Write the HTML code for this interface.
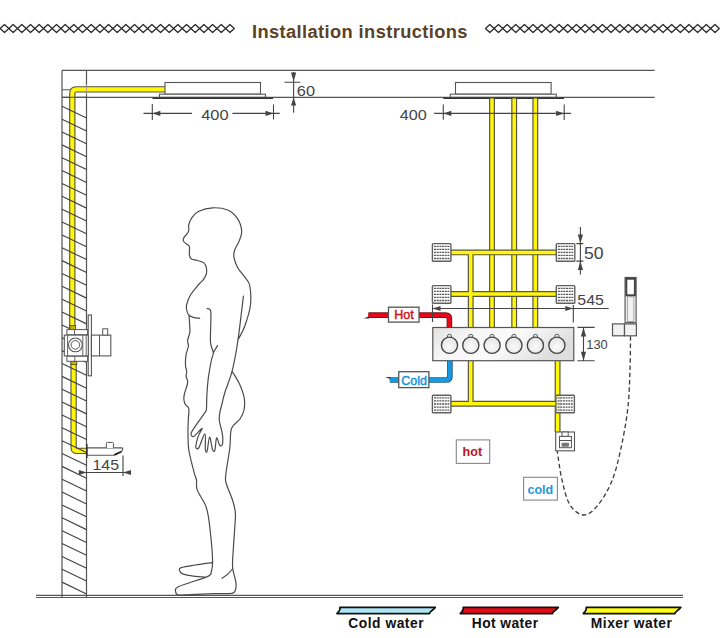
<!DOCTYPE html>
<html><head><meta charset="utf-8"><style>
html,body{margin:0;padding:0;background:#fff;}
svg{display:block;}
</style></head><body>
<svg width="720" height="638" viewBox="0 0 720 638">
<rect width="720" height="638" fill="#fff"/>
<path d="M0.17 28.5L4.5 24.5L8.84 28.5L4.5 32.5ZM8.84 28.5L13.17 24.5L17.5 28.5L13.17 32.5ZM17.5 28.5L21.84 24.5L26.18 28.5L21.84 32.5ZM26.17 28.5L30.51 24.5L34.84 28.5L30.51 32.5ZM34.84 28.5L39.18 24.5L43.52 28.5L39.18 32.5ZM43.52 28.5L47.85 24.5L52.19 28.5L47.85 32.5ZM52.18 28.5L56.52 24.5L60.85 28.5L56.52 32.5ZM60.85 28.5L65.19 24.5L69.52 28.5L65.19 32.5ZM69.53 28.5L73.86 24.5L78.19 28.5L73.86 32.5ZM78.2 28.5L82.53 24.5L86.86 28.5L82.53 32.5ZM86.87 28.5L91.2 24.5L95.53 28.5L91.2 32.5ZM95.54 28.5L99.87 24.5L104.2 28.5L99.87 32.5ZM104.2 28.5L108.54 24.5L112.87 28.5L108.54 32.5ZM112.88 28.5L117.21 24.5L121.54 28.5L117.21 32.5ZM121.55 28.5L125.88 24.5L130.22 28.5L125.88 32.5ZM130.22 28.5L134.55 24.5L138.89 28.5L134.55 32.5ZM138.88 28.5L143.22 24.5L147.56 28.5L143.22 32.5ZM147.55 28.5L151.89 24.5L156.22 28.5L151.89 32.5ZM156.22 28.5L160.56 24.5L164.9 28.5L160.56 32.5ZM164.89 28.5L169.23 24.5L173.56 28.5L169.23 32.5ZM173.56 28.5L177.9 24.5L182.24 28.5L177.9 32.5ZM182.23 28.5L186.57 24.5L190.91 28.5L186.57 32.5ZM190.91 28.5L195.24 24.5L199.58 28.5L195.24 32.5ZM199.57 28.5L203.91 24.5L208.25 28.5L203.91 32.5ZM208.24 28.5L212.58 24.5L216.91 28.5L212.58 32.5ZM216.91 28.5L221.25 24.5L225.59 28.5L221.25 32.5ZM225.58 28.5L229.92 24.5L234.25 28.5L229.92 32.5Z" fill="none" stroke="#2a2a2a" stroke-width="1.25" stroke-linejoin="round"/>
<path d="M485.47 28.5L489.8 24.5L494.13 28.5L489.8 32.5ZM494.13 28.5L498.46 24.5L502.79 28.5L498.46 32.5ZM502.79 28.5L507.12 24.5L511.45 28.5L507.12 32.5ZM511.45 28.5L515.78 24.5L520.11 28.5L515.78 32.5ZM520.11 28.5L524.44 24.5L528.77 28.5L524.44 32.5ZM528.77 28.5L533.1 24.5L537.43 28.5L533.1 32.5ZM537.43 28.5L541.76 24.5L546.09 28.5L541.76 32.5ZM546.09 28.5L550.42 24.5L554.75 28.5L550.42 32.5ZM554.75 28.5L559.08 24.5L563.41 28.5L559.08 32.5ZM563.41 28.5L567.74 24.5L572.07 28.5L567.74 32.5ZM572.07 28.5L576.4 24.5L580.73 28.5L576.4 32.5ZM580.73 28.5L585.06 24.5L589.39 28.5L585.06 32.5ZM589.39 28.5L593.72 24.5L598.05 28.5L593.72 32.5ZM598.05 28.5L602.38 24.5L606.71 28.5L602.38 32.5ZM606.71 28.5L611.04 24.5L615.37 28.5L611.04 32.5ZM615.37 28.5L619.7 24.5L624.03 28.5L619.7 32.5ZM624.03 28.5L628.36 24.5L632.69 28.5L628.36 32.5ZM632.69 28.5L637.02 24.5L641.35 28.5L637.02 32.5ZM641.35 28.5L645.68 24.5L650.01 28.5L645.68 32.5ZM650.01 28.5L654.34 24.5L658.67 28.5L654.34 32.5ZM658.67 28.5L663 24.5L667.33 28.5L663 32.5ZM667.33 28.5L671.66 24.5L675.99 28.5L671.66 32.5ZM675.99 28.5L680.32 24.5L684.65 28.5L680.32 32.5ZM684.65 28.5L688.98 24.5L693.31 28.5L688.98 32.5ZM693.31 28.5L697.64 24.5L701.97 28.5L697.64 32.5ZM701.97 28.5L706.3 24.5L710.63 28.5L706.3 32.5ZM710.63 28.5L714.96 24.5L719.29 28.5L714.96 32.5Z" fill="none" stroke="#2a2a2a" stroke-width="1.25" stroke-linejoin="round"/>
<text x="252" y="37.8" font-family="Liberation Sans" font-weight="bold" font-size="18.3" fill="#5b4126" textLength="215.5" lengthAdjust="spacing">Installation instructions</text>
<path d="M62 70.4H654.7M62 97.3H654.7" stroke="#555" stroke-width="1.2" fill="none"/>
<path d="M62 70.4V597.5M86.5 70.4V597.5" stroke="#555" stroke-width="1.2" fill="none"/>
<path d="M62 89.8H70" stroke="#555" stroke-width="1" fill="none"/>
<path d="M36 595.4H683M36 597.5H683" stroke="#555" stroke-width="1.1" fill="none"/>
<path d="M165 89.4H76.4Q72.3 89.4 72.3 93.5V329M73.6 361V447.4Q73.6 450.9 77.1 450.9H86.5" stroke="#555040" stroke-width="6.3" fill="none" stroke-linejoin="round"/><path d="M165 89.4H76.4Q72.3 89.4 72.3 93.5V329M73.6 361V447.4Q73.6 450.9 77.1 450.9H86.5" stroke="#fff60a" stroke-width="4.1" fill="none" stroke-linejoin="round"/>
<path d="M62 97.3H86.5" stroke="#555" stroke-width="1.1"/><path d="M86.5 84V95" stroke="#999" stroke-width="0.8"/>
<path d="M62 106.3L86.5 118.1M62 119.16L86.5 130.96M62 132.02L86.5 143.82M62 144.88L86.5 156.68M62 157.74L86.5 169.54M62 170.6L86.5 182.4M62 183.46L86.5 195.26M62 196.32L86.5 208.12M62 209.18L86.5 220.98M62 222.04L86.5 233.84M62 234.9L86.5 246.7M62 247.76L86.5 259.56M62 260.62L86.5 272.42M62 273.48L86.5 285.28M62 286.34L86.5 298.14M62 299.2L86.5 311M62 312.06L86.5 323.86M62 324.92L86.5 336.72M62 337.78L86.5 349.58M62 350.64L86.5 362.44M62 363.5L86.5 375.3M62 376.36L86.5 388.16M62 389.22L86.5 401.02M62 402.08L86.5 413.88M62 414.94L86.5 426.74M62 427.8L86.5 439.6M62 440.66L86.5 452.46M62 453.52L86.5 465.32M62 466.38L86.5 478.18M62 479.24L86.5 491.04M62 492.1L86.5 503.9M62 504.96L86.5 516.76M62 517.82L86.5 529.62M62 530.68L86.5 542.48M62 543.54L86.5 555.34M62 556.4L86.5 568.2M62 569.26L86.5 581.06M62 582.12L86.5 593.92" stroke="#444" stroke-width="1.15" fill="none"/>
<rect x="165" y="82.5" width="95.5" height="11.7" fill="#fff" stroke="#555" stroke-width="1.1"/>
<rect x="159.5" y="94.2" width="106" height="3" fill="#fff" stroke="#555" stroke-width="1.1"/>
<path d="M152.5 98.2H273" stroke="#333" stroke-width="1.6"/>
<rect x="455.5" y="82.5" width="95.6" height="11.7" fill="#fff" stroke="#555" stroke-width="1.1"/>
<rect x="450.3" y="94.2" width="106" height="3" fill="#fff" stroke="#555" stroke-width="1.1"/>
<path d="M443.3 98.2H564" stroke="#333" stroke-width="1.6"/>
<path d="M143.5 113.4H192M232.4 113.4H279.8M152.3 104V120M273.5 104.5V119.6" stroke="#444" stroke-width="1.1" fill="none"/>
<path d="M152.3 113.4L160.3 110.8L160.3 116Z" fill="#444"/>
<path d="M273.5 113.4L265.5 110.8L265.5 116Z" fill="#444"/>
<text x="201.2" y="119.7" font-family="Liberation Sans" font-size="15" fill="#444" textLength="27.4" lengthAdjust="spacingAndGlyphs">400</text>
<path d="M293.6 71.9V112.7M284.5 82.3H300.4" stroke="#444" stroke-width="1.1" fill="none"/>
<path d="M293.6 81.5L291 72.5L296.2 72.5Z" fill="#444"/>
<path d="M293.6 97.5L291 105.5L296.2 105.5Z" fill="#444"/>
<text x="296.8" y="95.7" font-family="Liberation Sans" font-size="14" fill="#444" textLength="18.2" lengthAdjust="spacingAndGlyphs">60</text>
<rect x="70" y="325.5" width="5.6" height="4.2" fill="#c8b400" stroke="#4a4830" stroke-width="0.8"/>
<rect x="71" y="361.2" width="5.8" height="3.5" fill="#c8b400" stroke="#4a4830" stroke-width="0.8"/>
<rect x="88.2" y="315" width="3.2" height="60.8" fill="#fff" stroke="#555" stroke-width="1.1"/>
<rect x="66.9" y="329.6" width="20.7" height="5.2" fill="#fff" stroke="#555" stroke-width="1"/>
<rect x="66.9" y="356.1" width="20.7" height="5.2" fill="#fff" stroke="#555" stroke-width="1"/>
<path d="M74.5 329.6V334.8M74.8 356.1V361.3" stroke="#555" stroke-width="0.9"/>
<rect x="64.3" y="335.1" width="24" height="20.8" fill="#fff" stroke="#555" stroke-width="1.1"/>
<path d="M67.6 335.1V355.9M82.8 335.1V355.9M86.2 335.1V355.9" stroke="#555" stroke-width="0.9"/>
<circle cx="75.4" cy="344.9" r="6.9" fill="#fff" stroke="#555" stroke-width="1.1"/>
<circle cx="75.4" cy="344.9" r="4.3" fill="#fff" stroke="#555" stroke-width="1"/>
<rect x="91.4" y="335.1" width="19.4" height="20.8" fill="#fff" stroke="#555" stroke-width="1.1"/>
<path d="M99.5 335.1V355.9" stroke="#555" stroke-width="1"/>
<rect x="102.7" y="328.8" width="5" height="6.3" fill="#fff" stroke="#555" stroke-width="1"/>
<path d="M87 447.9H121.6Q123.2 448.2 122.6 449.8L121.6 451.6L113.5 455.3H87Z" fill="#fff" stroke="#555" stroke-width="1.1" stroke-linejoin="round"/>
<path d="M115 454.6L120.6 452" stroke="#222" stroke-width="1.8" stroke-linecap="round"/>
<path d="M106.4 447.9V443.4Q106.4 442.4 107.4 442.4H112.4Q113.4 442.4 113.4 443.4V447.9" fill="#fff" stroke="#555" stroke-width="1"/>
<path d="M86.8 444V458" stroke="#333" stroke-width="1.5"/>
<path d="M79 472.5H130.5M123 455.5V476" stroke="#444" stroke-width="1.1" fill="none"/>
<path d="M86.8 472.5L78.8 469.9L78.8 475.1Z" fill="#444"/>
<path d="M123 472.5L131 469.9L131 475.1Z" fill="#444"/>
<text x="92.5" y="469.5" font-family="Liberation Sans" font-size="14" fill="#444" textLength="26.5" lengthAdjust="spacingAndGlyphs">145</text>
<path d="M203.2 280 C203.72 279 205.78 276.05 206.3 274 C206.82 271.95 206.7 269.55 206.3 267.7 C205.9 265.85 205.35 264.1 203.9 262.9 C202.45 261.7 199.7 261.17 197.6 260.5 C195.5 259.83 192.67 259.78 191.3 258.9 C189.93 258.02 189.72 257.25 189.4 255.2 C189.08 253.15 189.88 248.47 189.4 246.6 C188.92 244.73 187.52 244.95 186.5 244 C185.48 243.05 183.73 241.97 183.3 240.9 C182.87 239.83 183.18 238.88 183.9 237.6 C184.62 236.32 186.78 234.47 187.6 233.2 C188.42 231.93 188.6 231.45 188.8 230 C189 228.55 188.28 226.57 188.8 224.5 C189.32 222.43 190.23 219.8 191.9 217.6 C193.57 215.4 195.35 212.93 198.8 211.3 C202.25 209.67 207.78 208.02 212.6 207.8 C217.42 207.58 223.52 208.17 227.7 210 C231.88 211.83 235.37 215.25 237.7 218.8 C240.03 222.35 241.48 227.53 241.7 231.3 C241.92 235.07 240.18 238.25 239 241.4 C237.82 244.55 235.43 247.48 234.6 250.2 C233.77 252.92 233.48 254.78 234 257.7 C234.52 260.62 235.83 264.37 237.7 267.7 C239.57 271.03 243.2 274.73 245.2 277.7 C247.2 280.67 248.83 280.9 249.7 285.5 C250.57 290.1 251.22 298.55 250.4 305.3 C249.58 312.05 246.92 320.13 244.8 326 C242.68 331.87 238.88 338.08 237.7 340.5M203.2 280 C202.37 280.83 200.32 282.5 198.2 285 C196.08 287.5 192.4 291.83 190.5 295 C188.6 298.17 187.45 301.58 186.8 304 C186.15 306.42 186.27 307.67 186.6 309.5 C186.93 311.33 187.65 313.68 188.8 315 C189.95 316.32 191.7 316.85 193.5 317.4 C195.3 317.95 198.58 318.15 199.6 318.3M189.1 316 C189.18 317.33 189.48 321.27 189.6 324 C189.72 326.73 190.13 329.65 189.8 332.4 C189.47 335.15 187.83 338.2 187.6 340.5 C187.37 342.8 188.67 343.82 188.4 346.2 C188.13 348.58 186.48 351.63 186 354.8 C185.52 357.97 185.38 362.42 185.5 365.2 C185.62 367.98 186.6 369.63 186.7 371.5 C186.8 373.37 185.93 374.58 186.1 376.4 C186.27 378.22 187.98 379.47 187.7 382.4 C187.42 385.33 185.03 391.12 184.4 394 C183.77 396.88 183.72 397.9 183.9 399.7 C184.08 401.5 184.68 403.33 185.5 404.8 C186.32 406.27 188.33 405.97 188.8 408.5 C189.27 411.03 188.43 416.08 188.3 420 C188.17 423.92 187.92 427 188 432 C188.08 437 187.72 443.03 188.8 450 C189.88 456.97 193.22 468.8 194.5 473.8 C195.78 478.8 196.03 477.28 196.5 480 C196.97 482.72 195.65 485.48 197.3 490.1 C198.95 494.72 204.27 501.05 206.4 507.7 C208.53 514.35 209.07 521.05 210.1 530 C211.13 538.95 212.48 554.08 212.6 561.4 C212.72 568.72 211.1 571.82 210.8 573.9M207.2 308.5 C207.75 308.8 209.88 308.58 210.5 310.3 C211.12 312.02 210.9 313.47 210.9 318.8 C210.9 324.13 210.1 336.65 210.5 342.3 C210.9 347.95 213.15 349.75 213.3 352.7 C213.45 355.65 212.23 355.75 211.4 360 C210.57 364.25 209.05 372.37 208.3 378.2 C207.55 384.03 207.18 390.53 206.9 395 C206.62 399.47 206.72 402.42 206.6 405 C206.48 407.58 206.72 408.9 206.2 410.5 C205.68 412.1 205.75 411.33 203.5 414.6 C201.25 417.87 194.77 426.87 192.7 430.1 C190.63 433.33 191.17 432.95 191.1 434 C191.03 435.05 191.73 436.08 192.3 436.4 C192.87 436.72 192.87 437.23 194.5 435.9 C196.13 434.57 201.48 428.32 202.1 428.4 C202.72 428.48 199.25 433.4 198.2 436.4 C197.15 439.4 196.05 444.38 195.8 446.4 C195.55 448.42 196.17 448.33 196.7 448.5 C197.23 448.67 197.63 449.85 199 447.4 C200.37 444.95 203.85 433.55 204.9 433.8 C205.95 434.05 205.1 445.87 205.3 448.9 C205.5 451.93 205.77 451.75 206.1 452 C206.43 452.25 206.72 452.9 207.3 450.4 C207.88 447.9 208.77 437.25 209.6 437 C210.43 436.75 211.63 446.53 212.3 448.9 C212.97 451.27 213.15 451.08 213.6 451.2 C214.05 451.32 214.5 451.8 215 449.6 C215.5 447.4 215.87 438.83 216.6 438 C217.33 437.17 218.62 443.3 219.4 444.6 C220.18 445.9 220.77 445.97 221.3 445.8 C221.83 445.63 222.4 445.43 222.6 443.6 C222.8 441.77 223.03 438.62 222.5 434.8 C221.97 430.98 219.85 424.37 219.4 420.7 C218.95 417.03 219.42 415.42 219.8 412.8 C220.18 410.18 220.83 408.47 221.7 405 C222.57 401.53 223.27 397.63 225 392 C226.73 386.37 229.98 379.53 232.1 371.2 C234.22 362.87 235.82 354.52 237.7 342 C239.58 329.48 242.45 303.75 243.4 296.1M232.1 371.2 C233.33 373.33 237.48 379.53 239.5 384 C241.52 388.47 243.45 393.67 244.2 398 C244.95 402.33 244.7 406.5 244 410 C243.3 413.5 242.08 415.92 240 419 C237.92 422.08 233.2 423.67 231.5 428.5 C229.8 433.33 230.78 440.03 229.8 448 C228.82 455.97 226.1 470.13 225.6 476.3 C225.1 482.47 225.65 481.05 226.8 485 C227.95 488.95 231.07 495.33 232.5 500 C233.93 504.67 235.05 508 235.4 513 C235.75 518 234.93 524.17 234.6 530 C234.27 535.83 233.73 541.83 233.4 548 C233.07 554.17 232.17 561.08 232.6 567 C233.03 572.92 235.77 579.25 236 583.5 C236.23 587.75 235.83 590.82 234 592.5 C232.17 594.18 228.35 593.42 225 593.6 C221.65 593.78 219.73 593.43 213.9 593.6 C208.07 593.77 195.85 594.37 190 594.6 C184.15 594.83 181.2 595.52 178.8 595 C176.4 594.48 175.6 592.92 175.6 591.5 C175.6 590.08 173.67 588.9 178.8 586.5 C183.93 584.1 201 579.27 206.4 577.1 C211.8 574.93 210.4 574.1 211.2 573.5M212 562.6 C209.17 563 200.12 564.17 195 565 C189.88 565.83 183.9 566.73 181.3 567.6 C178.7 568.47 179.2 569.15 179.4 570.2 C179.6 571.25 179.9 572.88 182.5 573.9 C185.1 574.92 191.02 575.77 195 576.3 C198.98 576.83 204.5 576.97 206.4 577.1M213.3 352.7L217.5 345.6M222 578.3Q228 575 232.1 569.5" fill="none" stroke="#4a4a4a" stroke-width="1.2" stroke-linecap="round" stroke-linejoin="round"/>
<path d="M492 98.6V327.5M514.2 98.6V327.5M535.3 98.6V327.5" stroke="#5a5540" stroke-width="5.9" fill="none"/>
<path d="M492 98.6V327.5M514.2 98.6V327.5M535.3 98.6V327.5" stroke="#fff60a" stroke-width="3.5" fill="none"/>
<path d="M451 252.4H556.3M451 294H556.3M470.7 252.4V327.5M470.7 360.7V403.8M451 403.8H557.6M557.6 360.7V432" stroke="#5a5540" stroke-width="5.9" fill="none"/>
<path d="M451 252.4H556.3M451 294H556.3M470.7 252.4V327.5M470.7 360.7V403.8M451 403.8H557.6M557.6 360.7V432" stroke="#fff60a" stroke-width="3.5" fill="none"/>
<path d="M434.2 113.4H571.1M443.3 104.6V119.7M564.2 104.4V120" stroke="#444" stroke-width="1.1" fill="none"/>
<path d="M443.3 113.4L451.3 110.8L451.3 116Z" fill="#444"/>
<path d="M564.2 113.4L556.2 110.8L556.2 116Z" fill="#444"/>
<text x="399.8" y="119.6" font-family="Liberation Sans" font-size="15" fill="#444" textLength="27" lengthAdjust="spacingAndGlyphs">400</text>
<g><rect x="432.4" y="243.6" width="18.5" height="17.6" rx="0.8" fill="#fff" fill-opacity="0.8" stroke="#606060" stroke-width="1.4"/><path d="M434 246.3H449.3" stroke="#555" stroke-width="1.3" stroke-dasharray="2 0.7"/><path d="M434 249.35H449.3" stroke="#555" stroke-width="1.3" stroke-dasharray="2 0.7"/><path d="M434 252.4H449.3" stroke="#555" stroke-width="1.3" stroke-dasharray="2 0.7"/><path d="M434 255.45H449.3" stroke="#555" stroke-width="1.3" stroke-dasharray="2 0.7"/><path d="M434 258.5H449.3" stroke="#555" stroke-width="1.3" stroke-dasharray="2 0.7"/></g>
<g><rect x="556.3" y="243.6" width="18.5" height="17.6" rx="0.8" fill="#fff" fill-opacity="0.8" stroke="#606060" stroke-width="1.4"/><path d="M557.9 246.3H573.2" stroke="#555" stroke-width="1.3" stroke-dasharray="2 0.7"/><path d="M557.9 249.35H573.2" stroke="#555" stroke-width="1.3" stroke-dasharray="2 0.7"/><path d="M557.9 252.4H573.2" stroke="#555" stroke-width="1.3" stroke-dasharray="2 0.7"/><path d="M557.9 255.45H573.2" stroke="#555" stroke-width="1.3" stroke-dasharray="2 0.7"/><path d="M557.9 258.5H573.2" stroke="#555" stroke-width="1.3" stroke-dasharray="2 0.7"/></g>
<g><rect x="432.4" y="285.6" width="18.5" height="17.6" rx="0.8" fill="#fff" fill-opacity="0.8" stroke="#606060" stroke-width="1.4"/><path d="M434 288.3H449.3" stroke="#555" stroke-width="1.3" stroke-dasharray="2 0.7"/><path d="M434 291.35H449.3" stroke="#555" stroke-width="1.3" stroke-dasharray="2 0.7"/><path d="M434 294.4H449.3" stroke="#555" stroke-width="1.3" stroke-dasharray="2 0.7"/><path d="M434 297.45H449.3" stroke="#555" stroke-width="1.3" stroke-dasharray="2 0.7"/><path d="M434 300.5H449.3" stroke="#555" stroke-width="1.3" stroke-dasharray="2 0.7"/></g>
<g><rect x="556.3" y="285.6" width="18.5" height="17.6" rx="0.8" fill="#fff" fill-opacity="0.8" stroke="#606060" stroke-width="1.4"/><path d="M557.9 288.3H573.2" stroke="#555" stroke-width="1.3" stroke-dasharray="2 0.7"/><path d="M557.9 291.35H573.2" stroke="#555" stroke-width="1.3" stroke-dasharray="2 0.7"/><path d="M557.9 294.4H573.2" stroke="#555" stroke-width="1.3" stroke-dasharray="2 0.7"/><path d="M557.9 297.45H573.2" stroke="#555" stroke-width="1.3" stroke-dasharray="2 0.7"/><path d="M557.9 300.5H573.2" stroke="#555" stroke-width="1.3" stroke-dasharray="2 0.7"/></g>
<g><rect x="432.4" y="395.2" width="18.5" height="17.6" rx="0.8" fill="#fff" fill-opacity="0.8" stroke="#606060" stroke-width="1.4"/><path d="M434 397.9H449.3" stroke="#555" stroke-width="1.3" stroke-dasharray="2 0.7"/><path d="M434 400.95H449.3" stroke="#555" stroke-width="1.3" stroke-dasharray="2 0.7"/><path d="M434 404H449.3" stroke="#555" stroke-width="1.3" stroke-dasharray="2 0.7"/><path d="M434 407.05H449.3" stroke="#555" stroke-width="1.3" stroke-dasharray="2 0.7"/><path d="M434 410.1H449.3" stroke="#555" stroke-width="1.3" stroke-dasharray="2 0.7"/></g>
<g><rect x="555.9" y="395.2" width="18.5" height="17.6" rx="0.8" fill="#fff" fill-opacity="0.8" stroke="#606060" stroke-width="1.4"/><path d="M557.5 397.9H572.8" stroke="#555" stroke-width="1.3" stroke-dasharray="2 0.7"/><path d="M557.5 400.95H572.8" stroke="#555" stroke-width="1.3" stroke-dasharray="2 0.7"/><path d="M557.5 404H572.8" stroke="#555" stroke-width="1.3" stroke-dasharray="2 0.7"/><path d="M557.5 407.05H572.8" stroke="#555" stroke-width="1.3" stroke-dasharray="2 0.7"/><path d="M557.5 410.1H572.8" stroke="#555" stroke-width="1.3" stroke-dasharray="2 0.7"/></g>
<defs><linearGradient id="pg" x1="0" y1="0" x2="1" y2="0.3"><stop offset="0" stop-color="#e2e2e2"/><stop offset="0.3" stop-color="#f6f6f6"/><stop offset="0.6" stop-color="#fbfbfb"/><stop offset="1" stop-color="#dedede"/></linearGradient><radialGradient id="kg" cx="0.5" cy="0.6" r="0.6"><stop offset="0" stop-color="#fafafa"/><stop offset="1" stop-color="#e4e4e4"/></radialGradient></defs>
<rect x="432.8" y="327.5" width="141" height="33.2" fill="url(#pg)" stroke="#555" stroke-width="1.2"/>
<path d="M447.5 337.6V335.8Q447.5 334.4 449.5 334.4Q451.5 334.4 451.5 335.8V337.6" fill="#f4f4f4" stroke="#555" stroke-width="1"/>
<circle cx="449.5" cy="345.3" r="8.1" fill="url(#kg)" stroke="#444" stroke-width="1.35"/>
<path d="M468.8 337.6V335.8Q468.8 334.4 470.8 334.4Q472.8 334.4 472.8 335.8V337.6" fill="#f4f4f4" stroke="#555" stroke-width="1"/>
<circle cx="470.8" cy="345.3" r="8.1" fill="url(#kg)" stroke="#444" stroke-width="1.35"/>
<path d="M490.1 337.6V335.8Q490.1 334.4 492.1 334.4Q494.1 334.4 494.1 335.8V337.6" fill="#f4f4f4" stroke="#555" stroke-width="1"/>
<circle cx="492.1" cy="345.3" r="8.1" fill="url(#kg)" stroke="#444" stroke-width="1.35"/>
<path d="M511.9 337.6V335.8Q511.9 334.4 513.9 334.4Q515.9 334.4 515.9 335.8V337.6" fill="#f4f4f4" stroke="#555" stroke-width="1"/>
<circle cx="513.9" cy="345.3" r="8.1" fill="url(#kg)" stroke="#444" stroke-width="1.35"/>
<path d="M533.4 337.6V335.8Q533.4 334.4 535.4 334.4Q537.4 334.4 537.4 335.8V337.6" fill="#f4f4f4" stroke="#555" stroke-width="1"/>
<circle cx="535.4" cy="345.3" r="8.1" fill="url(#kg)" stroke="#444" stroke-width="1.35"/>
<path d="M554.9 337.6V335.8Q554.9 334.4 556.9 334.4Q558.9 334.4 558.9 335.8V337.6" fill="#f4f4f4" stroke="#555" stroke-width="1"/>
<circle cx="556.9" cy="345.3" r="8.1" fill="url(#kg)" stroke="#444" stroke-width="1.35"/>
<path d="M368.4 315.1H445.6Q449.4 315.1 449.4 318.9V327.5" stroke="#7a1418" stroke-width="5.6" fill="none"/>
<path d="M368.4 315.1H445.6Q449.4 315.1 449.4 318.9V327.5" stroke="#e80818" stroke-width="3.8" fill="none"/>
<path d="M363.5 318.4L369 316.2V318.4Z" fill="#333"/>
<rect x="388.5" y="307.2" width="30.5" height="14.9" fill="#fff" stroke="#555" stroke-width="1.3"/>
<text x="394.3" y="319.3" font-family="Liberation Sans" font-size="12.5" fill="#d0121c" stroke="#d0121c" stroke-width="0.45">Hot</text>
<path d="M389.8 380H446.1Q449.9 380 449.9 376.2V360.7" stroke="#1a5a80" stroke-width="5.6" fill="none"/>
<path d="M389.8 380H446.1Q449.9 380 449.9 376.2V360.7" stroke="#1898e0" stroke-width="3.8" fill="none"/>
<path d="M385 376.9L390.4 379.1V376.9Z" fill="#333"/>
<rect x="398.75" y="371.7" width="30.15" height="15.9" fill="#fff" stroke="#555" stroke-width="1.3"/>
<text x="401.2" y="384.9" font-family="Liberation Sans" font-size="12.5" fill="#1a90d8" stroke="#1a90d8" stroke-width="0.45">Cold</text>
<path d="M432.5 308.5H608.75M432.5 304.6V322M573.3 305V322.4" stroke="#444" stroke-width="1.1" fill="none"/>
<path d="M432.5 308.5L440.5 305.9L440.5 311.1Z" fill="#444"/>
<path d="M573.3 308.5L565.3 305.9L565.3 311.1Z" fill="#444"/>
<text x="577.3" y="305" font-family="Liberation Sans" font-size="15" fill="#444" textLength="26.5" lengthAdjust="spacingAndGlyphs">545</text>
<path d="M580.4 226.9V274.5M576.4 243.6H583.3M576.4 261.1H583.3" stroke="#444" stroke-width="1.1" fill="none"/>
<path d="M580.4 243.6L577.8 234.6L583 234.6Z" fill="#444"/>
<path d="M580.4 261.1L577.8 270.1L583 270.1Z" fill="#444"/>
<text x="583.9" y="259" font-family="Liberation Sans" font-size="16.2" fill="#444" textLength="19.6" lengthAdjust="spacingAndGlyphs">50</text>
<path d="M577.4 327.4H594.7M577.4 360.75H594.7M583.5 327.4V360.75" stroke="#444" stroke-width="1.1" fill="none"/>
<path d="M583.5 327.4L580.9 336.4L586.1 336.4Z" fill="#444"/>
<path d="M583.5 360.75L580.9 351.75L586.1 351.75Z" fill="#444"/>
<text x="586.3" y="349.2" font-family="Liberation Sans" font-size="12.2" fill="#444" textLength="21.5" lengthAdjust="spacingAndGlyphs">130</text>
<rect x="625.1" y="277.5" width="11" height="45.2" fill="#fff" stroke="#555" stroke-width="1.2"/>
<rect x="626.3" y="278.7" width="8.6" height="16.6" fill="none" stroke="#444" stroke-width="2"/>
<rect x="627.3" y="296.8" width="6.6" height="24.6" fill="#f2f2f2" stroke="#888" stroke-width="0.8"/>
<rect x="612.5" y="323.9" width="12" height="11.9" fill="#f2f2f2" stroke="#555" stroke-width="1.2"/>
<rect x="624.5" y="323.9" width="11.9" height="11.9" fill="#f2f2f2" stroke="#555" stroke-width="1.2"/>
<path d="M630.5 336.3 C630.42 341.92 630.45 357.98 630 370 C629.55 382.02 629.3 395.4 627.8 408.4 C626.3 421.4 623.62 435.98 621 448 C618.38 460.02 615.93 471 612.1 480.5 C608.27 490 602.7 499.25 598 505 C593.3 510.75 588.57 515 583.9 515 C579.23 515 573.65 510.83 570 505 C566.35 499.17 564.13 489 562 480 C559.87 471 558 455.83 557.2 451" fill="none" stroke="#3a3a3a" stroke-width="1.3" stroke-dasharray="4.5 2.8"/>
<rect x="555.7" y="432" width="18.8" height="18.8" fill="#fff" stroke="#555" stroke-width="1.1"/>
<rect x="562" y="432" width="6.2" height="4.4" fill="#fff" stroke="#555" stroke-width="1"/>
<rect x="559.5" y="436.4" width="11.9" height="11.3" fill="#fff" stroke="#555" stroke-width="1"/>
<path d="M559.5 440.5H571.4" stroke="#555" stroke-width="1"/>
<rect x="561.5" y="442.8" width="7.5" height="4" rx="1" fill="#777"/>
<rect x="456.3" y="439.9" width="33.4" height="23.5" fill="#fff" stroke="#888" stroke-width="1.1"/>
<text x="462.6" y="456.2" font-family="Liberation Sans" font-weight="bold" font-size="12.6" fill="#c0141c">hot</text>
<rect x="523.6" y="477.3" width="33.8" height="22.8" fill="#fff" stroke="#888" stroke-width="1.1"/>
<text x="527.4" y="493.6" font-family="Liberation Sans" font-weight="bold" font-size="12.6" fill="#1c9ad8">cold</text>
<path d="M340 607.3H435.3 C434.3 610 430.8 610.2 429.3 613.6H337 C339 611 340.5 610.8 340 607.3Z" fill="#aee5f5" stroke="#111" stroke-width="1.8" stroke-linejoin="round"/>
<path d="M463.3 607.3H558.3 C557.3 610 553.8 610.2 552.3 613.6H460.3 C462.3 611 463.8 610.8 463.3 607.3Z" fill="#ea0a14" stroke="#111" stroke-width="1.8" stroke-linejoin="round"/>
<path d="M586.3 607.3H680.8 C679.8 610 676.3 610.2 674.8 613.6H583.3 C585.3 611 586.8 610.8 586.3 607.3Z" fill="#ffff14" stroke="#111" stroke-width="1.8" stroke-linejoin="round"/>
<text x="348.2" y="627.7" font-family="Liberation Sans" font-weight="bold" font-size="13.8" fill="#111" textLength="75.4" lengthAdjust="spacing">Cold water</text>
<text x="471.8" y="627.7" font-family="Liberation Sans" font-weight="bold" font-size="13.8" fill="#111" textLength="66.3" lengthAdjust="spacing">Hot water</text>
<text x="590.8" y="627.7" font-family="Liberation Sans" font-weight="bold" font-size="13.8" fill="#111" textLength="81.1" lengthAdjust="spacing">Mixer water</text>
</svg>
</body></html>
